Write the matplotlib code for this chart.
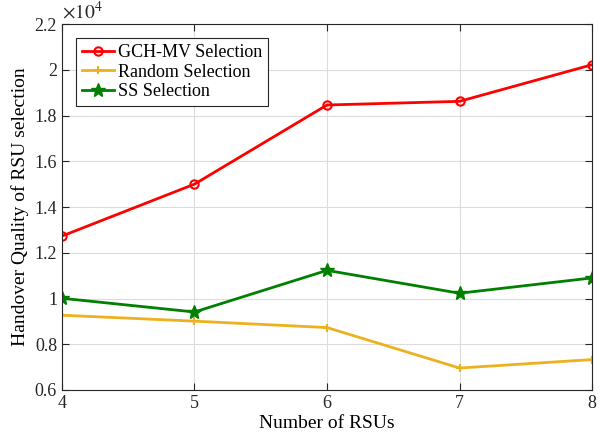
import matplotlib
matplotlib.use('Agg')
import matplotlib.pyplot as plt
import numpy as np

# handover quality per number of RSUs
rsus = [4, 5, 6, 7, 8]
gch_mv = [12730, 15000, 18460, 18620, 20220]
random_sel = [9270, 9010, 8730, 6960, 7330]
ss_sel = [10010, 9410, 11230, 10230, 10900]

plt.rcParams['font.family'] = ['Liberation Serif', 'DejaVu Serif']
plt.rcParams['mathtext.fontset'] = 'stix'

fig = plt.figure(figsize=(6, 4.45), dpi=100)
ax = fig.add_axes([0.1033, 0.1236, 0.8834, 0.8224])

scale = 1e4
ax.plot(rsus, np.array(gch_mv) / scale, color='#FF0000', lw=2, marker='o',
        ms=6, mfc='none', mew=1.5, label='GCH-MV Selection')
ax.plot(rsus, np.array(random_sel) / scale, color='#EDB120', lw=2, marker='+',
        ms=6, mew=1.5, label='Random Selection')
ax.plot(rsus, np.array(ss_sel) / scale, color='#008000', lw=2, marker='*',
        ms=10, label='SS Selection')

ax.set_xlim(4, 8)
ax.set_ylim(0.6, 2.2)
ax.set_xticks(rsus)
yt = np.arange(0.6, 2.21, 0.2)
ax.set_yticks(yt)
ax.set_yticklabels(['%g' % round(v, 1) for v in yt])
ax.tick_params(direction='in', labelsize=13, length=5, width=0.8,
               top=True, right=True, colors='#262626')
ax.grid(True, color='#dcdcdc', lw=0.8)
ax.set_axisbelow(True)
for s in ax.spines.values():
    s.set_color('#262626')
    s.set_linewidth(0.8)

ax.text(0, 1.005, r'$\times 10^4$', transform=ax.transAxes, fontsize=14,
        va='bottom', ha='left', color='#262626')

ax.set_xlabel('Number of RSUs', fontsize=14, labelpad=2)
ax.set_ylabel('Handover Quality of RSU selection', fontsize=14, labelpad=4)

leg = ax.legend(loc='upper left', fontsize=13, fancybox=False,
                edgecolor='#262626', framealpha=1, handlelength=1.8,
                handletextpad=0.2, borderpad=0.3, labelspacing=0.15,
                borderaxespad=0.8)
leg.get_frame().set_linewidth(0.8)

fig.savefig('out.png', dpi=100)
